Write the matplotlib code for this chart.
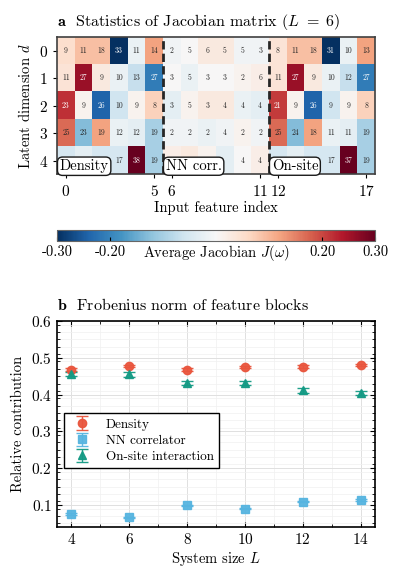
import numpy as np
import matplotlib
matplotlib.use("Agg")
import matplotlib.pyplot as plt
from matplotlib.colors import Normalize

plt.rcParams.update({
    "font.family": "serif",
    "font.serif": ["cmr10", "DejaVu Serif"],
    "mathtext.fontset": "cm",
    "axes.formatter.use_mathtext": True,
    "axes.unicode_minus": False,
    "font.size": 10.5,
})

# ---- panel a data: average Jacobian (colour) and cell annotations ----
latent_dims = [0, 1, 2, 3, 4]
feature_ticks = [0, 5, 6, 11, 12, 17]
jac_mean = np.array([
    [0.05, 0.09, 0.09, -0.30, -0.02, 0.12, -0.01, 0.00, 0.03, 0.03, -0.01, -0.01,
     0.04, 0.09, 0.09, -0.30, -0.02, 0.12],
    [0.04, 0.26, 0.03, -0.02, -0.07, -0.21, 0.00, -0.02, 0.00, 0.00, 0.01, 0.02,
     0.04, 0.26, 0.03, -0.02, -0.07, -0.21],
    [0.22, 0.01, -0.24, -0.06, 0.01, 0.07, -0.03, 0.01, 0.03, 0.03, -0.02, -0.03,
     0.21, 0.01, -0.24, -0.06, 0.01, 0.07],
    [0.17, -0.13, 0.12, -0.02, -0.03, -0.10, -0.01, -0.01, -0.02, -0.01, 0.01, -0.01,
     0.17, -0.13, 0.12, -0.02, -0.03, -0.10],
    [-0.05, -0.03, -0.05, -0.05, 0.30, -0.10, 0.02, 0.03, 0.01, -0.03, 0.00, 0.02,
     -0.05, -0.03, -0.05, -0.05, 0.30, -0.10],
])
# None = hidden behind the block label boxes
jac_pct = [
    [9, 11, 18, 33, 11, 14, 2, 5, 6, 5, 5, 3, 8, 11, 18, 31, 10, 13],
    [11, 27, 9, 10, 13, 27, 3, 5, 3, 3, 2, 6, 11, 27, 9, 10, 12, 27],
    [23, 9, 26, 10, 9, 8, 3, 5, 3, 4, 4, 4, 21, 9, 26, 9, 9, 8],
    [25, 23, 19, 12, 12, 19, 2, 2, 2, 4, 2, 2, 25, 24, 18, 11, 11, 19],
    [None, None, None, 17, 38, 19, None, None, None, None, 4, 4,
     None, None, None, 17, 37, 19],
]
block_names = ["Density", "NN corr.", "On-site"]
block_starts = [0, 6, 12]

# ---- panel b data: Frobenius norm of feature blocks ----
system_L = [4, 6, 8, 10, 12, 14]
frob_density = [0.467, 0.477, 0.467, 0.475, 0.476, 0.480]
frob_nn = [0.075, 0.066, 0.099, 0.090, 0.109, 0.113]
frob_onsite = [0.456, 0.455, 0.431, 0.432, 0.412, 0.404]
err_density = [0.004, 0.003, 0.004, 0.003, 0.004, 0.003]
err_nn = [0.002, 0.002, 0.002, 0.002, 0.002, 0.002]
err_onsite = [0.006, 0.006, 0.006, 0.006, 0.007, 0.006]

fig = plt.figure(figsize=(3.97, 5.81), dpi=100)
ax_a = fig.add_axes([0.1436, 0.6997, 0.801, 0.2366])
cax = fig.add_axes([0.1436, 0.5852, 0.801, 0.0189])
ax_b = fig.add_axes([0.1436, 0.0929, 0.801, 0.3546])

# ---------- panel a ----------
norm = Normalize(-0.3, 0.3)
im = ax_a.imshow(jac_mean, cmap="RdBu_r", norm=norm, aspect="auto",
                 interpolation="nearest")
nrow, ncol = jac_mean.shape
for i in range(nrow):
    for j in range(ncol):
        if jac_pct[i][j] is None:
            continue
        c = "white" if abs(jac_mean[i, j]) >= 0.2 else "0.15"
        ax_a.text(j, i, str(jac_pct[i][j]), ha="center", va="center",
                  fontsize=5.5, color=c)
for xb in (5.5, 11.5):
    ax_a.axvline(xb, color="0.15", ls=(0, (3, 1.5)), lw=2.0)
for name, x0 in zip(block_names, block_starts):
    ax_a.text(x0 - 0.35, 4.2, name, ha="left", va="center", fontsize=10.5,
              zorder=5,
              bbox=dict(boxstyle="round,pad=0.15,rounding_size=0.35",
                        fc="white", ec="0.1", lw=1.0))
ax_a.set_xticks(feature_ticks)
ax_a.set_yticks(latent_dims)
ax_a.set_xlabel("Input feature index", labelpad=2)
ax_a.set_ylabel("Latent dimension $d$")
ax_a.tick_params(direction="out", length=3, width=0.8, labelsize=11)
for s in ax_a.spines.values():
    s.set_linewidth(1.2)
    s.set_color("0.25")
ax_a.set_title(r"$\mathbf{a}$  Statistics of Jacobian matrix ($L\ =\ 6$)",
               fontsize=11.5, loc="left", pad=8)

cb = fig.colorbar(im, cax=cax, orientation="horizontal")
cb.set_ticks([-0.3, -0.2, 0.2, 0.3])
cb.set_ticklabels(["-0.30", "-0.20", "0.20", "0.30"])
cb.ax.tick_params(direction="in", length=3, labelsize=10.5, pad=3)
cb.outline.set_edgecolor("0.4")
cax.text(0.5, -0.18, r"Average Jacobian $J(\omega)$", transform=cax.transAxes,
         ha="center", va="top", fontsize=10.5)

# ---------- panel b ----------
series = [
    (frob_density, err_density, "Density", "#e9553d", "o", 6),
    (frob_nn, err_nn, "NN correlator", "#56b4e0", "s", 5.5),
    (frob_onsite, err_onsite, "On-site interaction", "#139a84", "^", 6),
]
for vals, errs, lab, col, mk, ms in series:
    ax_b.errorbar(system_L, vals, yerr=errs, fmt=mk, color=col, ms=ms,
                  ecolor=col, elinewidth=1.0, capsize=4.5, capthick=1.0,
                  ls="none", alpha=0.95, label=lab)
ax_b.set_xlim(3.5, 14.5)
ax_b.set_ylim(0.04, 0.6)
ax_b.set_xticks(system_L)
ax_b.set_yticks([0.1, 0.2, 0.3, 0.4, 0.5, 0.6])
ax_b.set_xticks(np.arange(4, 15, 1), minor=True)
ax_b.set_yticks(np.arange(0.05, 0.6, 0.02), minor=True)
ax_b.grid(True, which="major", color="0.88", lw=0.7)
ax_b.grid(True, which="minor", color="0.94", lw=0.5)
ax_b.set_axisbelow(True)
ax_b.tick_params(direction="in", which="both", top=True, right=True,
                 labelsize=11)
ax_b.tick_params(which="major", length=3.5)
ax_b.tick_params(which="minor", length=2)
for s in ax_b.spines.values():
    s.set_linewidth(1.2)
ax_b.set_xlabel("System size $L$", labelpad=2)
ax_b.set_ylabel("Relative contribution")
ax_b.set_title(r"$\mathbf{b}$  Frobenius norm of feature blocks",
               fontsize=11.5, loc="left", pad=8)
ax_b.legend(loc="upper left", bbox_to_anchor=(0.0, 0.585), fontsize=9.5,
            frameon=True, fancybox=False, edgecolor="black", framealpha=1,
            borderpad=0.4, handlelength=2.0, labelspacing=0.3)

fig.savefig("out.png", dpi=100)
